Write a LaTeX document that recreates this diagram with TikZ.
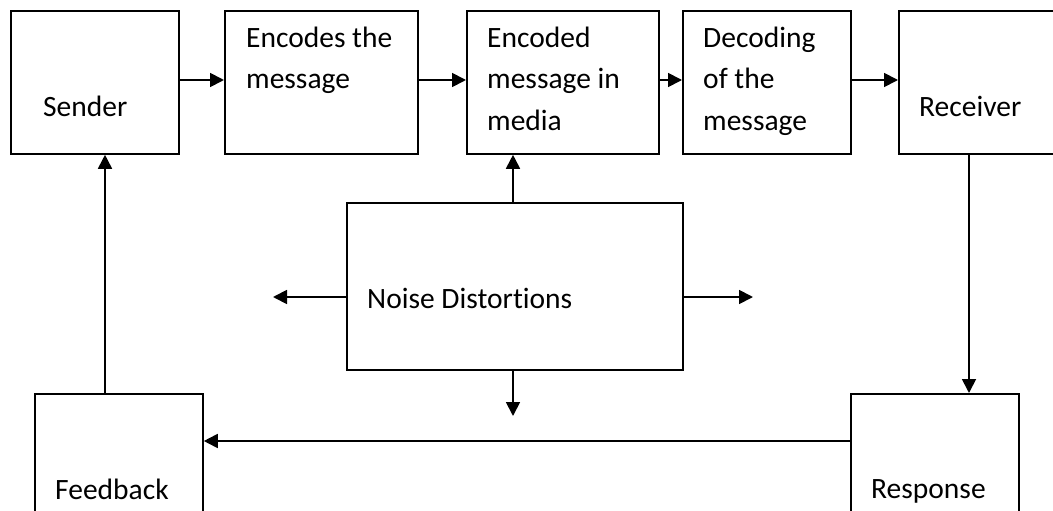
\documentclass[tikz,border=0pt]{standalone}
\usepackage{fontspec}
\setmainfont[Ligatures={NoCommon}]{Carlito}
\usetikzlibrary{arrows.meta}
\begin{document}
\begin{tikzpicture}[x=1pt,y=-1pt,
  box/.style={draw, line width=1.8pt, rectangle, inner sep=0pt, anchor=north west},
  lbl/.style={anchor=base west, inner sep=0pt, align=left, font=\fontsize{29.5}{41.5}\selectfont},
  arr/.style={line width=1.8pt, -{Triangle[length=14pt,width=14pt]}}]
\useasboundingbox (0,0) rectangle (1053,511);
\clip (0,0) rectangle (1053,511);
% boxes
\node[box, minimum width=168pt, minimum height=143pt] (sender) at (10,10) {};
\node[box, minimum width=193pt, minimum height=143pt] (encodes) at (224,10) {};
\node[box, minimum width=192pt, minimum height=143pt] (media) at (466,10) {};
\node[box, minimum width=168pt, minimum height=143pt] (decoding) at (682,10) {};
\node[box, minimum width=200pt, minimum height=143pt] (receiver) at (898,10) {};
\node[box, minimum width=336pt, minimum height=167pt] (noise) at (346,202) {};
\node[box, minimum width=168pt, minimum height=150pt] (feedback) at (34,393) {};
\node[box, minimum width=168pt, minimum height=150pt] (response) at (850,393) {};
% texts (anchor = baseline of last line)
\node[lbl] (tsender) at (43,117) {Sender};
\node[lbl] (tencodes) at (246,88.5) {Encodes the\\message};
\node[lbl] (tmedia) at (487,130) {Encoded\\message in\\media};
\node[lbl] (tdecoding) at (703,130) {Decoding\\of the\\message};
\node[lbl] (treceiver) at (919,117) {Receiver};
\node[lbl] (tnoise) at (367,308) {Noise Distortions};
\node[lbl] (tfeedback) at (55,499) {Feedback};
\node[lbl] (tresponse) at (871,498) {Response};
% helper coordinates
\coordinate (row) at (0,80);
\coordinate (noisemid) at (0,297);
\coordinate (nl) at (273,297);
\coordinate (nr) at (753,297);
\coordinate (nd) at (513,416);
\coordinate (upx) at (513,0);
\coordinate (fbx) at (105,0);
\coordinate (rx) at (969,0);
\coordinate (ry) at (0,441);
% connectors
\draw[arr] (sender.east |- row) -- (encodes.west |- row);
\draw[arr] (encodes.east |- row) -- (media.west |- row);
\draw[arr] (media.east |- row) -- (decoding.west |- row);
\draw[arr] (decoding.east |- row) -- (receiver.west |- row);
\draw[arr] (noise.north -| upx) -- (media.south -| upx);
\draw[arr] (noise.west |- noisemid) -- (nl);
\draw[arr] (noise.east |- noisemid) -- (nr);
\draw[arr] (noise.south -| upx) -- (nd);
\draw[arr] (feedback.north -| fbx) -- (sender.south -| fbx);
\draw[arr] (receiver.south -| rx) -- (response.north -| rx);
\draw[arr] (response.west |- ry) -- (feedback.east |- ry);
\end{tikzpicture}
\end{document}
